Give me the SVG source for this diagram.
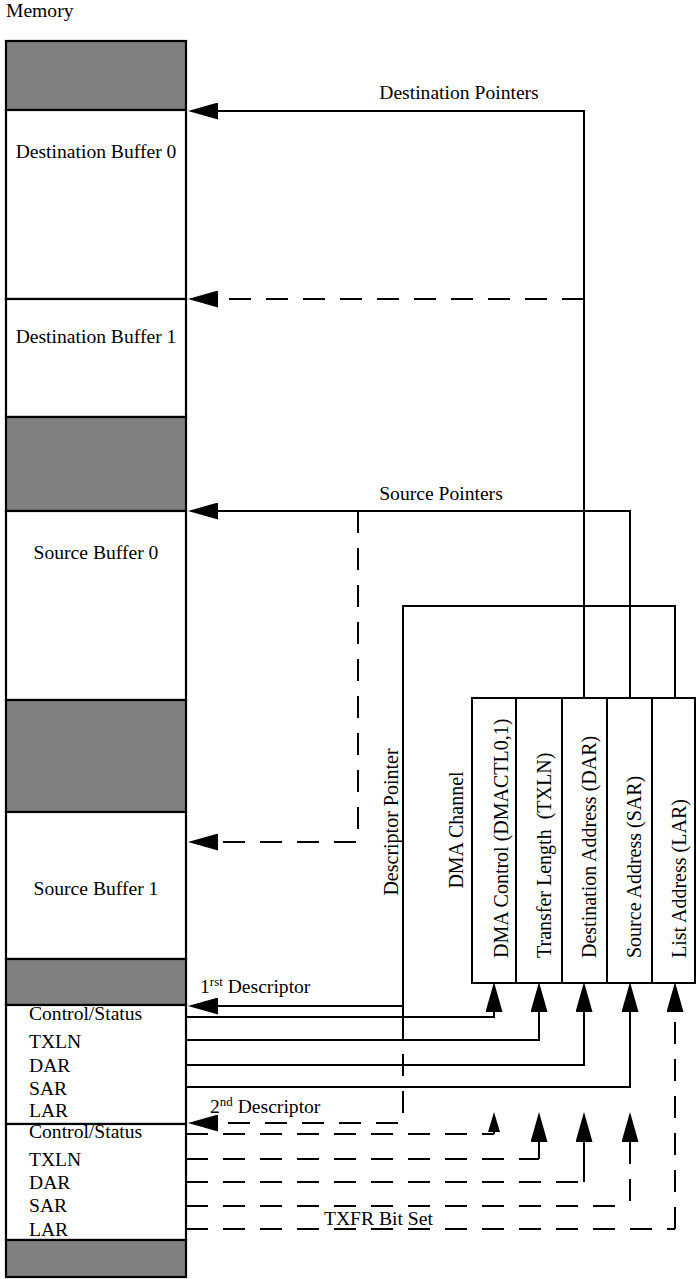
<svg xmlns="http://www.w3.org/2000/svg" width="696" height="1279" viewBox="0 0 696 1279">
<style>
text{font-family:"Liberation Serif","Times New Roman",serif;font-size:19.6px;fill:#000}
.v{font-size:20px}
.mem{fill:#fff;stroke:#000;stroke-width:2.2}
.gray{fill:#808080;stroke:#000;stroke-width:2.2}
.box{fill:#fff;stroke:#000;stroke-width:2}
.ln{fill:none;stroke:#000;stroke-width:2}
.dash{fill:none;stroke:#000;stroke-width:2;stroke-dasharray:22 15}
.mid{text-anchor:middle}
</style>
<defs>
<marker id="ah" viewBox="0 0 30 17" refX="0" refY="8.5" markerWidth="30" markerHeight="17" markerUnits="userSpaceOnUse" orient="auto">
<path d="M0,0 L30,8.5 L0,17 Z" fill="#000" stroke="none"/>
</marker>
<marker id="ahs" viewBox="0 0 20 12" refX="0" refY="6" markerWidth="20" markerHeight="12" markerUnits="userSpaceOnUse" orient="auto">
<path d="M0,0 L20,6 L0,12 Z" fill="#000" stroke="none"/>
</marker>
</defs>

<text x="6" y="17">Memory</text>

<g id="mem-gray-top"><rect class="gray" x="6" y="41" width="180" height="69"/></g>
<g id="dest-buffer-0"><rect class="mem" x="6" y="110" width="180" height="189"/><text class="mid" x="96" y="158">Destination Buffer 0</text></g>
<g id="dest-buffer-1"><rect class="mem" x="6" y="299" width="180" height="118"/><text class="mid" x="96" y="343">Destination Buffer 1</text></g>
<g id="mem-gray-2"><rect class="gray" x="6" y="417" width="180" height="94"/></g>
<g id="src-buffer-0"><rect class="mem" x="6" y="511" width="180" height="189"/><text class="mid" x="96" y="559">Source Buffer 0</text></g>
<g id="mem-gray-3"><rect class="gray" x="6" y="700" width="180" height="112"/></g>
<g id="src-buffer-1"><rect class="mem" x="6" y="812" width="180" height="147"/><text class="mid" x="96" y="895">Source Buffer 1</text></g>
<g id="mem-gray-4"><rect class="gray" x="6" y="959" width="180" height="46"/></g>
<g id="descriptor-1"><rect class="mem" x="6" y="1005" width="180" height="119"/>
<text x="29" y="1020">Control/Status</text>
<text x="29" y="1048">TXLN</text>
<text x="29" y="1072">DAR</text>
<text x="29" y="1095">SAR</text>
<text x="29" y="1117">LAR</text>
</g>
<g id="descriptor-2"><rect class="mem" x="6" y="1124" width="180" height="116"/>
<text x="29" y="1138">Control/Status</text>
<text x="29" y="1166">TXLN</text>
<text x="29" y="1189">DAR</text>
<text x="29" y="1212">SAR</text>
<text x="29" y="1236">LAR</text>
</g>
<g id="mem-gray-bottom"><rect class="gray" x="6" y="1240" width="180" height="37"/></g>

<g id="dma-channel">
<rect class="box" x="472" y="698" width="223" height="285"/>
<line class="ln" x1="516" y1="698" x2="516" y2="983"/>
<line class="ln" x1="562" y1="698" x2="562" y2="983"/>
<line class="ln" x1="607" y1="698" x2="607" y2="983"/>
<line class="ln" x1="652" y1="698" x2="652" y2="983"/>
<text class="mid v" transform="translate(463,830) rotate(-90)">DMA Channel</text>
<text class="v" transform="translate(508,958) rotate(-90)">DMA Control (DMACTL0,1)</text>
<text class="v" transform="translate(551,958) rotate(-90)" xml:space="preserve">Transfer Length  (TXLN)</text>
<text class="v" transform="translate(596,958) rotate(-90)">Destination Address (DAR)</text>
<text class="v" transform="translate(641,958) rotate(-90)">Source Address (SAR)</text>
<text class="v" transform="translate(686,958) rotate(-90)">List Address (LAR)</text>
</g>

<g id="connectors">
<path class="ln" d="M584,698 V111 H218" marker-end="url(#ah)"/>
<path class="dash" d="M584,299 H218" marker-end="url(#ah)"/>
<path class="ln" d="M630,698 V511 H218" marker-end="url(#ah)"/>
<path class="dash" d="M358,511 V842 H218" marker-end="url(#ah)"/>
<path class="ln" d="M675,698 V606 H403 V1017"/>
<path class="ln" d="M403,1006 H218" marker-end="url(#ah)"/>
<path class="ln" d="M186,1017 H494 V1012" marker-end="url(#ah)"/>
<path class="ln" d="M186,1040 H539 V1012" marker-end="url(#ah)"/>
<path class="ln" d="M186,1065 H584 V1012" marker-end="url(#ah)"/>
<path class="ln" d="M186,1087 H630 V1012" marker-end="url(#ah)"/>
<path class="dash" d="M403,1017 V1123 H218" marker-end="url(#ah)"/>
<path class="dash" d="M186,1134 H494"/>
<path class="ln" d="M494,1134 V1132" marker-end="url(#ahs)"/>
<path class="dash" d="M186,1159 H539"/>
<path class="ln" d="M539,1159 V1142" marker-end="url(#ah)"/>
<path class="dash" d="M186,1182 H584"/>
<path class="ln" d="M584,1182 V1142" marker-end="url(#ah)"/>
<path class="dash" d="M186,1206 H630"/>
<path class="dash" d="M630,1142 V1206"/>
<path class="ln" d="M630,1143 V1142" marker-end="url(#ah)"/>
<path class="dash" d="M186,1229 H675"/>
<path class="dash" d="M675,1229 V1012" marker-end="url(#ah)"/>
</g>

<g id="labels">
<text class="mid" x="459" y="99">Destination Pointers</text>
<text class="mid" x="441" y="500">Source Pointers</text>
<text class="mid v" transform="translate(398,822) rotate(-90)">Descriptor Pointer</text>
<text x="200" y="993">1<tspan font-size="13" dy="-7">rst</tspan><tspan dy="7"> Descriptor</tspan></text>
<text x="210" y="1113">2<tspan font-size="13" dy="-7">nd</tspan><tspan dy="7"> Descriptor</tspan></text>
<text x="324" y="1225">TXFR Bit Set</text>
</g>
</svg>
